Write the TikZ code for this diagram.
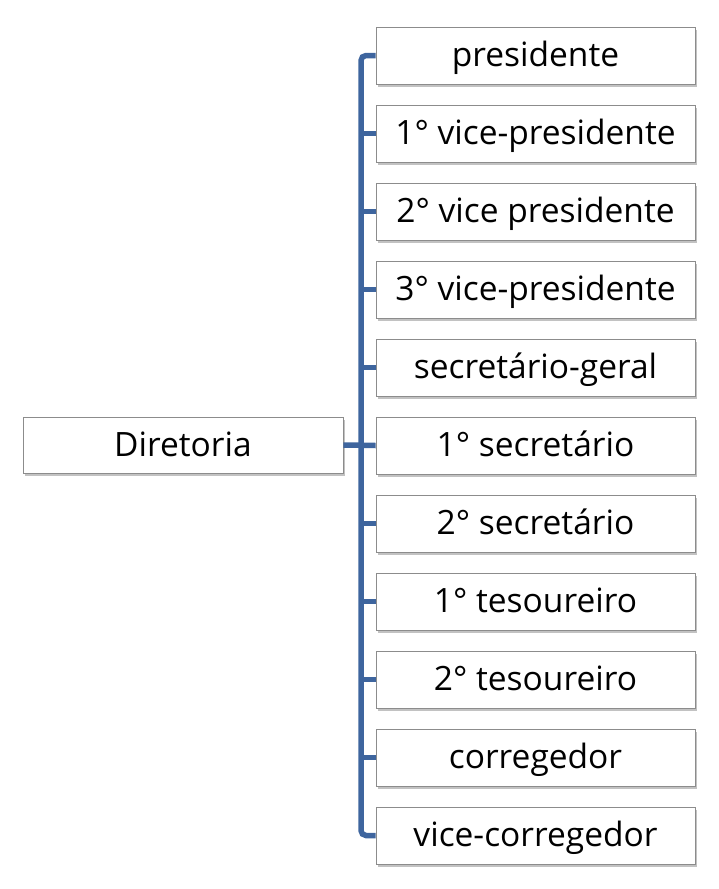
\documentclass[tikz,border=0pt]{standalone}
\usepackage{fontspec}
\setmainfont{Open Sans}
\usetikzlibrary{positioning}
\usetikzlibrary{calc}
\usetikzlibrary{shadows}
\definecolor{bus}{RGB}{62,101,158}
\definecolor{edge}{RGB}{140,140,140}

\begin{document}
\begin{tikzpicture}[x=1pt, y=-1pt,
	cargo/.style={draw=edge, line width=0.8pt, fill=white, minimum width=319pt, minimum height=57pt, inner sep=0pt,
		font=\fontsize{33.5}{40}\selectfont, text height=28pt, text depth=6pt,
		drop shadow={shadow xshift=2pt, shadow yshift=-3pt, opacity=0.4, fill=black!60}},
	ligacao/.style={draw=bus, line width=5.5pt}]
	\useasboundingbox (0,0) rectangle (719,889);

	% Diretoria
	\node[cargo, minimum width=320pt, minimum height=56pt] (dir) at (183, 445) {Diretoria};

	% cargos
	\node[cargo] (pres) at (535.5, 55.5) {presidente};
	\node[cargo] (vp1) at (535.5, 133.5) {1° vice-presidente};
	\node[cargo] (vp2) at (535.5, 211.5) {2° vice presidente};
	\node[cargo] (vp3) at (535.5, 289.5) {3° vice-presidente};
	\node[cargo] (secg) at (535.5, 367.5) {secretário-geral};
	\node[cargo] (sec1) at (535.5, 445.5) {1° secretário};
	\node[cargo] (sec2) at (535.5, 523.5) {2° secretário};
	\node[cargo] (tes1) at (535.5, 601.5) {1° tesoureiro};
	\node[cargo] (tes2) at (535.5, 679.5) {2° tesoureiro};
	\node[cargo] (corr) at (535.5, 757.5) {corregedor};
	\node[cargo] (vcorr) at (535.5, 835.5) {vice-corregedor};

	% Barramento
	\coordinate (topo) at (361, 55.5);
	\coordinate (base) at (361, 835.5);
	\draw[ligacao, rounded corners=5pt] (pres.west) -- (topo) -- (base) -- (vcorr.west);
	\draw[ligacao] (dir.east) -- (sec1.west);
	\draw[ligacao] (topo |- vp1.west) -- (vp1.west);
	\draw[ligacao] (topo |- vp2.west) -- (vp2.west);
	\draw[ligacao] (topo |- vp3.west) -- (vp3.west);
	\draw[ligacao] (topo |- secg.west) -- (secg.west);
	\draw[ligacao] (topo |- sec2.west) -- (sec2.west);
	\draw[ligacao] (topo |- tes1.west) -- (tes1.west);
	\draw[ligacao] (topo |- tes2.west) -- (tes2.west);
	\draw[ligacao] (topo |- corr.west) -- (corr.west);
\end{tikzpicture}
\end{document}
